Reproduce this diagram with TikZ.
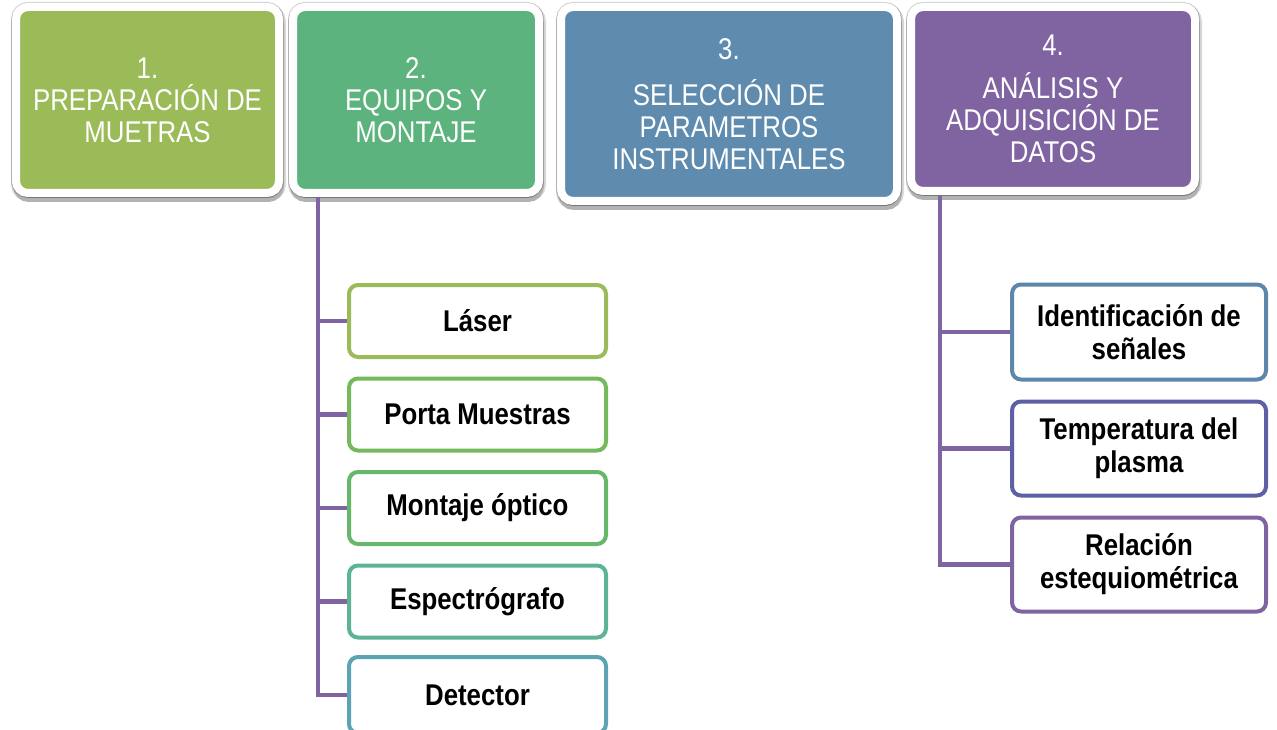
\documentclass[tikz,border=0pt]{standalone}
\usepackage{fontspec}
\setmainfont{Liberation Sans}[FakeStretch=0.86]
\usetikzlibrary{shadows}
\definecolor{cA}{HTML}{9BBB59}
\definecolor{cB}{HTML}{5CB37D}
\definecolor{cC}{HTML}{5F8CAE}
\definecolor{cD}{HTML}{8064A2}
\definecolor{lA}{HTML}{9BBB59}
\definecolor{lB}{HTML}{74B95C}
\definecolor{lC}{HTML}{67B76A}
\definecolor{lD}{HTML}{5DB494}
\definecolor{lE}{HTML}{5CA4B4}
\definecolor{rA}{HTML}{5E86AA}
\definecolor{rB}{HTML}{5F5FA5}
\definecolor{rC}{HTML}{8064A2}
\definecolor{lineC}{HTML}{8064A2}
\tikzset{
  headbox/.style={draw=white, line width=8pt, rounded corners=12pt, text=white, align=center,
    font=\fontsize{30}{32}\selectfont, inner sep=0pt,
    preaction={draw=black!18, line width=10pt},
    general shadow={shadow xshift=1pt, shadow yshift=-5pt, opacity=0.18, fill=black, draw=black, line width=8pt},
    general shadow={shadow xshift=1pt, shadow yshift=-3pt, opacity=0.15, fill=black, draw=black, line width=12pt}},
  subbox/.style={draw, fill=white, line width=4pt, rounded corners=9pt, text=black, align=center,
    font=\fontsize{30}{33}\selectfont\bfseries, inner sep=0pt},
  conn/.style={draw=lineC, line width=4.5pt}
}
\begin{document}
\begin{tikzpicture}[x=1pt,y=-1pt]
\useasboundingbox (0,0) rectangle (1277,730);
% header boxes
\node[headbox, fill=cA, minimum width=263pt, minimum height=186pt] (b1) at (147.5,100) {1.\\PREPARACIÓN DE\\MUETRAS};
\node[headbox, fill=cB, minimum width=246pt, minimum height=186pt] (b2) at (416,100) {2.\\EQUIPOS Y\\MONTAJE};
\node[headbox, fill=cC, minimum width=336pt, minimum height=194pt] (b3) at (729,104) {3.\\[14pt]SELECCIÓN DE\\PARAMETROS\\INSTRUMENTALES};
\node[headbox, fill=cD, minimum width=284pt, minimum height=184pt] (b4) at (1053,99) {4.\\[11pt]ANÁLISIS Y\\ADQUISICIÓN DE\\DATOS};
% left sub boxes
\node[subbox, draw=lA, minimum width=257pt, minimum height=72pt] (d1) at (477.5,321) {Láser};
\node[subbox, draw=lB, minimum width=257pt, minimum height=72pt] (d2) at (477.5,414.5) {Porta Muestras};
\node[subbox, draw=lC, minimum width=257pt, minimum height=72pt] (d3) at (477.5,508) {Montaje óptico};
\node[subbox, draw=lD, minimum width=257pt, minimum height=72pt] (d4) at (477.5,601.5) {Espectrógrafo};
\node[subbox, draw=lE, minimum width=257pt, minimum height=76pt] (d5) at (477.5,695) {Detector};
% right sub boxes
\node[subbox, draw=rA, minimum width=254pt, minimum height=95pt] (r1) at (1139,332) {Identificación de\\señales};
\node[subbox, draw=rB, minimum width=254pt, minimum height=94pt] (r2) at (1139,448.5) {Temperatura del\\plasma};
\node[subbox, draw=rC, minimum width=254pt, minimum height=94pt] (r3) at (1139,564.5) {Relación\\estequiométrica};
% connectors
\coordinate (t2) at (318,197);
\coordinate (t4) at (940,196);
\foreach \n in {d1,d2,d3,d4,d5} { \draw[conn] (t2) |- (\n.west); }
\foreach \n in {r1,r2,r3} { \draw[conn] (t4) |- (\n.west); }
\end{tikzpicture}
\end{document}
